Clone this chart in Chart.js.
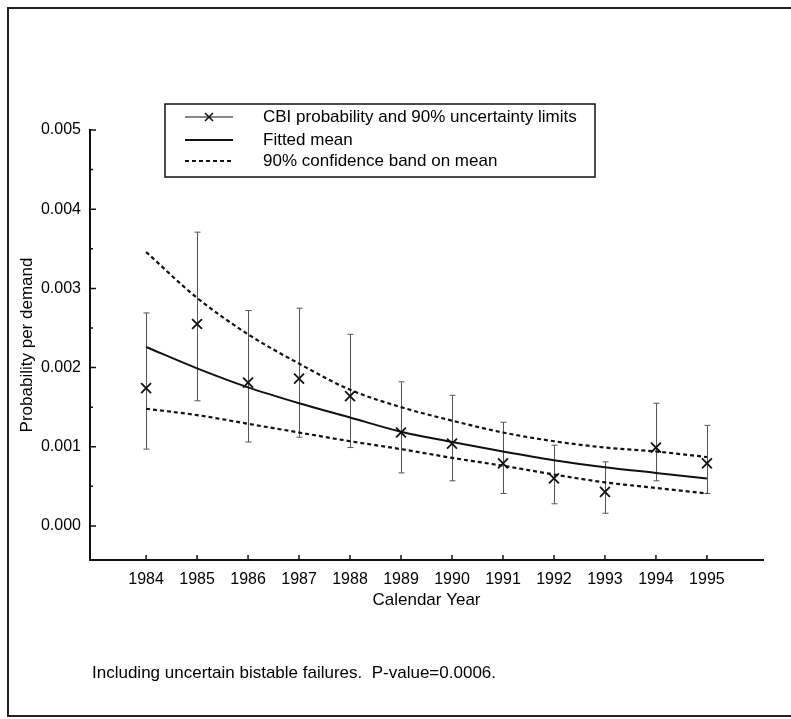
<!DOCTYPE html>
<html>
<head>
<meta charset="utf-8">
<script src="https://cdn.jsdelivr.net/npm/chart.js@4.4.1/dist/chart.umd.min.js"></script>
<style>
  body { margin: 0; background: #fff; overflow: hidden; }
  #wrap { position: relative; width: 791px; height: 719px; }
  #frame { position: absolute; left: 7px; top: 7px; width: 800px; height: 706px;
           border: 2px solid #222; border-right: none; pointer-events: none; }
  #caption { position: absolute; left: 92px; top: 663px; font: 17px "Liberation Sans", Arial, sans-serif; color: #000; }
</style>
</head>
<body>
<div id="wrap">
  <canvas id="myChart" width="791" height="719"></canvas>
  <div id="frame"></div>
  <div id="caption">Including uncertain bistable failures.&nbsp; P-value=0.0006.</div>
</div>
<script>
var years = [1984, 1985, 1986, 1987, 1988, 1989, 1990, 1991, 1992, 1993, 1994, 1995];
var yTicks = [0, 0.001, 0.002, 0.003, 0.004, 0.005];

// CBI estimate with its 90% uncertainty limits
var cbi     = [0.00174, 0.00255, 0.00181, 0.00186, 0.00164, 0.00118, 0.00104, 0.00079, 0.00060, 0.00043, 0.00099, 0.00079];
var cbiLow  = [0.00097, 0.00158, 0.00106, 0.00112, 0.00099, 0.00067, 0.00057, 0.00041, 0.00028, 0.00016, 0.00057, 0.00041];
var cbiHigh = [0.00269, 0.00371, 0.00272, 0.00275, 0.00242, 0.00182, 0.00165, 0.00131, 0.00102, 0.00081, 0.00155, 0.00127];

// fitted mean and 90% confidence band
var fitted    = [0.00226, 0.00199, 0.00175, 0.00155, 0.00137, 0.00119, 0.00106, 0.00094, 0.00083, 0.00074, 0.00067, 0.00060];
var bandUpper = [0.00346, 0.00288, 0.00242, 0.00205, 0.00172, 0.00150, 0.00133, 0.00118, 0.00107, 0.00099, 0.00094, 0.00087];
var bandLower = [0.00148, 0.00140, 0.00129, 0.00118, 0.00107, 0.00097, 0.00086, 0.00076, 0.00065, 0.00055, 0.00048, 0.00041];

function pts(vals) {
    return years.map(function (y, i) { return { x: y, y: vals[i] }; });
}

var FONT = '"Liberation Sans", Arial, sans-serif';

var errorBars = {
    id: 'errorBars',
    beforeDatasetsDraw: function (chart) {
        var ctx = chart.ctx, xs = chart.scales.x, ys = chart.scales.y;
        ctx.save();
        ctx.strokeStyle = '#555';
        ctx.lineWidth = 1;
        years.forEach(function (yr, i) {
            var x = Math.round(xs.getPixelForValue(yr)) + 0.5;
            var top = ys.getPixelForValue(cbiHigh[i]);
            var bot = ys.getPixelForValue(cbiLow[i]);
            ctx.beginPath();
            ctx.moveTo(x, top); ctx.lineTo(x, bot);
            ctx.moveTo(x - 3, top); ctx.lineTo(x + 3, top);
            ctx.moveTo(x - 3, bot); ctx.lineTo(x + 3, bot);
            ctx.stroke();
        });
        ctx.restore();
    }
};

// inward tick marks, like the original plot
var innerTicks = {
    id: 'innerTicks',
    afterDraw: function (chart) {
        var ctx = chart.ctx, xs = chart.scales.x, ys = chart.scales.y;
        var a = chart.chartArea;
        ctx.save();
        ctx.strokeStyle = '#111';
        ctx.lineWidth = 1.5;
        ctx.beginPath();
        yTicks.forEach(function (v) {
            var y = ys.getPixelForValue(v);
            ctx.moveTo(a.left, y); ctx.lineTo(a.left + 6, y);
            if (v < 0.005) {
                var ym = ys.getPixelForValue(v + 0.0005);
                ctx.moveTo(a.left, ym); ctx.lineTo(a.left + 3, ym);
            }
        });
        years.forEach(function (v) {
            var x = xs.getPixelForValue(v);
            ctx.moveTo(x, a.bottom); ctx.lineTo(x, a.bottom - 5);
        });
        ctx.stroke();
        ctx.restore();
    }
};

var boxLegend = {
    id: 'boxLegend',
    afterDraw: function (chart) {
        var ctx = chart.ctx;
        var ds = chart.data.datasets;
        var bx = 165, by = 104, bw = 430, bh = 73;
        var rows = [117, 140, 161];
        ctx.save();
        ctx.fillStyle = '#fff';
        ctx.fillRect(bx, by, bw, bh);
        ctx.strokeStyle = '#111';
        ctx.lineWidth = 1.5;
        ctx.strokeRect(bx, by, bw, bh);

        // row 1: line with x marker
        ctx.lineWidth = 1;
        ctx.beginPath();
        ctx.moveTo(185, rows[0]); ctx.lineTo(233, rows[0]);
        ctx.stroke();
        ctx.lineWidth = 1.6;
        ctx.beginPath();
        ctx.moveTo(205, rows[0] - 4); ctx.lineTo(213, rows[0] + 4);
        ctx.moveTo(213, rows[0] - 4); ctx.lineTo(205, rows[0] + 4);
        ctx.stroke();

        // row 2: solid
        ctx.lineWidth = 2;
        ctx.beginPath();
        ctx.moveTo(185, rows[1]); ctx.lineTo(233, rows[1]);
        ctx.stroke();

        // row 3: dashed
        ctx.setLineDash([4, 3]);
        ctx.beginPath();
        ctx.moveTo(185, rows[2]); ctx.lineTo(233, rows[2]);
        ctx.stroke();
        ctx.setLineDash([]);

        ctx.fillStyle = '#000';
        ctx.font = '17px ' + FONT;
        ctx.textBaseline = 'middle';
        for (var i = 0; i < 3; i++) {
            ctx.fillText(ds[i].label, 263, rows[i]);
        }
        ctx.restore();
    }
};

var ctx = document.getElementById('myChart').getContext('2d');

var chart = new Chart(ctx, {
    type: 'scatter',
    data: {
        datasets: [{
            label: 'CBI probability and 90% uncertainty limits',
            data: pts(cbi),
            showLine: false,
            pointStyle: 'crossRot',
            pointRadius: 7,
            pointBorderWidth: 1.8,
            borderColor: '#111',
            backgroundColor: '#111'
        }, {
            label: 'Fitted mean',
            data: pts(fitted),
            showLine: true,
            cubicInterpolationMode: 'monotone',
            borderColor: '#111',
            borderWidth: 2,
            pointRadius: 0
        }, {
            label: '90% confidence band on mean',
            data: pts(bandUpper),
            showLine: true,
            cubicInterpolationMode: 'monotone',
            borderColor: '#111',
            borderWidth: 2.2,
            borderDash: [4, 3],
            pointRadius: 0
        }, {
            label: '90% confidence band on mean (lower)',
            data: pts(bandLower),
            showLine: true,
            cubicInterpolationMode: 'monotone',
            borderColor: '#111',
            borderWidth: 2.2,
            borderDash: [4, 3],
            pointRadius: 0
        }]
    },
    options: {
        responsive: false,
        animation: false,
        layout: { padding: { top: 130, right: 28, left: 0, bottom: 0 } },
        plugins: {
            legend: { display: false },
            tooltip: { enabled: false }
        },
        scales: {
            x: {
                type: 'linear',
                min: 1982.9,
                max: 1996.1,
                afterBuildTicks: function (scale) {
                    scale.ticks = years.map(function (v) { return { value: v }; });
                },
                afterFit: function (scale) { scale.height = 159; },
                grid: { display: false, drawTicks: false },
                border: { display: true, color: '#111', width: 2 },
                ticks: {
                    padding: 10,
                    color: '#000',
                    font: { family: FONT, size: 16 },
                    maxRotation: 0,
                    autoSkip: false,
                    callback: function (v) { return String(v); }
                },
                title: {
                    display: true,
                    text: 'Calendar Year',
                    color: '#000',
                    font: { family: FONT, size: 17 },
                    padding: { top: 0, bottom: 108 }
                }
            },
            y: {
                min: -0.00043,
                max: 0.005,
                afterBuildTicks: function (scale) {
                    scale.ticks = yTicks.map(function (v) { return { value: v }; });
                },
                afterFit: function (scale) { scale.width = 90; },
                grid: { display: false, drawTicks: false },
                border: { display: true, color: '#111', width: 2 },
                ticks: {
                    padding: 9,
                    color: '#000',
                    font: { family: FONT, size: 16 },
                    callback: function (v) { return Number(v).toFixed(3); }
                },
                title: {
                    display: true,
                    text: 'Probability per demand',
                    color: '#000',
                    font: { family: FONT, size: 17 },
                    padding: { top: 17, bottom: 0 }
                }
            }
        }
    },
    plugins: [errorBars, innerTicks, boxLegend]
});
</script>
</body>
</html>
